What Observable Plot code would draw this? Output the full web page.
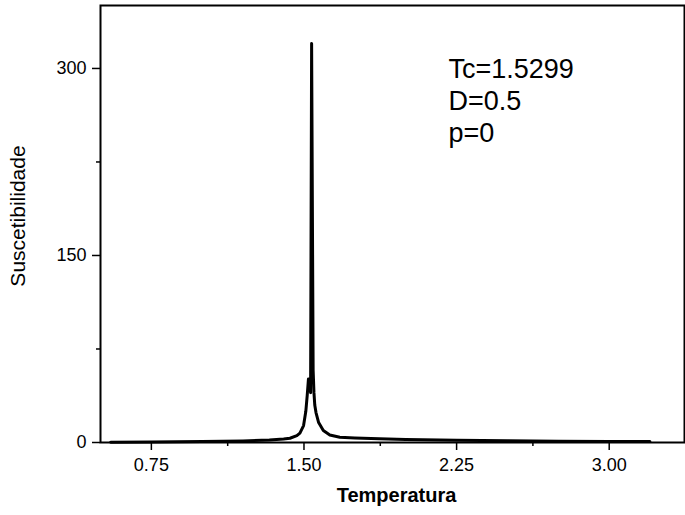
<!DOCTYPE html>
<html><head><meta charset="utf-8">
<script src="https://cdn.jsdelivr.net/npm/d3@7"></script>
<script src="https://cdn.jsdelivr.net/npm/@observablehq/plot@0.6"></script>
<style>body{margin:0;background:#fff}</style>
</head><body><div id="chart"></div>
<script>
const temperatura = [0.55, 0.75, 1.0, 1.2, 1.33, 1.4, 1.431, 1.465, 1.48, 1.498, 1.509, 1.516, 1.522, 1.5325,
  1.5375, 1.545, 1.549, 1.553, 1.559, 1.572, 1.595, 1.627, 1.676, 1.75, 1.87, 2.0, 2.25, 2.5, 2.75, 3.0, 3.2];
const suscetibilidade = [0.3, 0.5, 0.8, 1.3, 2.0, 2.8, 3.4, 5.5, 7.5, 13.6, 25, 38, 51, 40,
  320, 58, 40, 30, 24, 16, 9.6, 6, 4.2, 3.6, 3.0, 2.5, 1.8, 1.4, 1.1, 0.9, 0.8];
const xTicks = [0.75, 1.5, 2.25, 3.0];
const xMinor = [1.125, 1.875, 2.625];
const yTicks = [0, 150, 300];
const yMinor = [75, 225];
const annotation = ["Tc=1.5299", "D=0.5", "p=0"];
const xLabel = "Temperatura";
const yLabel = "Suscetibilidade";

const data = temperatura.map((t, i) => ({t, chi: suscetibilidade[i]}));
const font = "'Liberation Sans', Arial, Helvetica, sans-serif";

const chart = Plot.plot({
  width: 685, height: 515,
  marginLeft: 100, marginRight: 1, marginTop: 5, marginBottom: 73,
  style: {fontFamily: font, background: "#fff", color: "#000"},
  x: {domain: [0.5, 3.37]},
  y: {domain: [0, 350.5]},
  marks: [
    Plot.axisX({ticks: xMinor, tickSize: 4, tickFormat: () => "", strokeWidth: 1.5, label: null}),
    Plot.axisX({ticks: xTicks, tickSize: 8, tickPadding: 8, tickFormat: d3.format(".2f"), fontSize: 18, strokeWidth: 1.5, label: null}),
    Plot.axisY({ticks: yMinor, tickSize: 4, tickFormat: () => "", strokeWidth: 1.5, label: null}),
    Plot.axisY({ticks: yTicks, tickSize: 8, tickPadding: 6, tickFormat: d3.format("d"), fontSize: 18, strokeWidth: 1.5, label: null}),
    Plot.line(data, {x: "t", y: "chi", stroke: "#000", strokeWidth: 3, strokeLinejoin: "round"}),
    Plot.frame({stroke: "#000", strokeWidth: 2}),
    Plot.text([annotation.join("\n")], {frameAnchor: "top-left", dx: 348, dy: 49, fontSize: 27, lineHeight: 1.2, textAnchor: "start", lineAnchor: "top"}),
    Plot.text([xLabel], {frameAnchor: "bottom", dy: 53, dx: 4, fontSize: 20, fontWeight: "bold", lineAnchor: "middle"}),
    Plot.text([yLabel], {frameAnchor: "left", dx: -82, dy: -8, rotate: -90, fontSize: 21, textAnchor: "middle", lineAnchor: "middle"})
  ]
});
document.getElementById("chart").append(chart);
</script>
</body></html>
